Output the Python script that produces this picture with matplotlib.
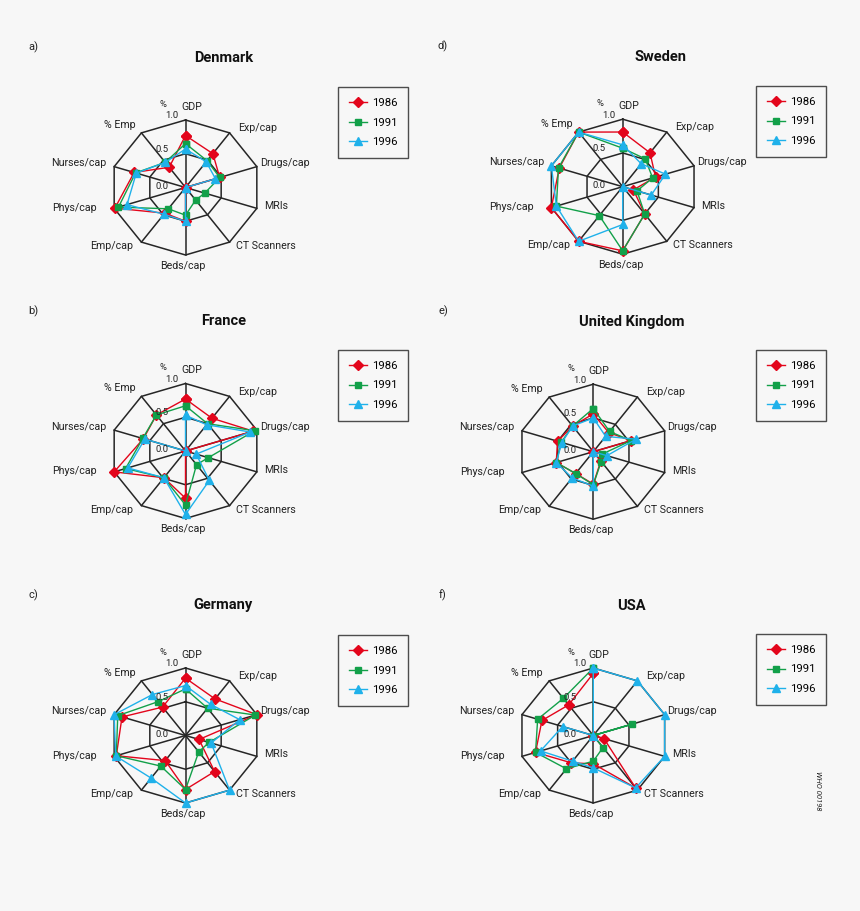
import numpy as np
import matplotlib.pyplot as plt

plt.rcParams['font.family'] = ['Roboto', 'DejaVu Sans']

# spokes, clockwise from the top
axis_names = ['GDP', 'Exp/cap', 'Drugs/cap', 'MRIs', 'CT Scanners',
              'Beds/cap', 'Emp/cap', 'Phys/cap', 'Nurses/cap', '% Emp']
years = ['1986', '1991', '1996']

denmark_1986 = [0.77, 0.62, 0.48, 0.00, 0.00, 0.50, 0.47, 0.99, 0.72, 0.37]
denmark_1991 = [0.65, 0.49, 0.48, 0.27, 0.23, 0.41, 0.39, 0.94, 0.70, 0.46]
denmark_1996 = [0.57, 0.47, 0.42, 0.00, 0.00, 0.50, 0.49, 0.82, 0.69, 0.46]

france_1986 = [0.77, 0.60, 0.95, 0.00, 0.00, 0.70, 0.49, 1.00, 0.59, 0.66]
france_1991 = [0.67, 0.50, 0.97, 0.32, 0.25, 0.80, 0.49, 0.84, 0.60, 0.66]
france_1996 = [0.53, 0.48, 0.91, 0.15, 0.54, 0.94, 0.49, 0.81, 0.57, 0.00]

germany_1986 = [0.85, 0.67, 1.00, 0.19, 0.66, 0.80, 0.46, 0.97, 0.89, 0.52]
germany_1991 = [0.69, 0.50, 0.98, 0.33, 0.30, 0.80, 0.56, 0.97, 0.95, 0.62]
germany_1996 = [0.74, 0.57, 0.76, 0.36, 1.00, 1.00, 0.78, 0.98, 1.00, 0.75]

sweden_1986 = [0.81, 0.62, 0.46, 0.15, 0.50, 0.95, 1.00, 1.00, 0.89, 1.00]
sweden_1991 = [0.57, 0.51, 0.42, 0.20, 0.50, 0.95, 0.53, 0.93, 0.90, 1.00]
sweden_1996 = [0.62, 0.42, 0.60, 0.40, 0.00, 0.56, 1.00, 0.93, 1.00, 1.00]

uk_1986 = [0.56, 0.35, 0.53, 0.00, 0.17, 0.48, 0.40, 0.52, 0.50, 0.47]
uk_1991 = [0.64, 0.37, 0.53, 0.12, 0.18, 0.49, 0.40, 0.52, 0.45, 0.47]
uk_1996 = [0.50, 0.28, 0.60, 0.19, 0.00, 0.51, 0.48, 0.52, 0.44, 0.47]

usa_1986 = [0.92, 0.00, 0.00, 0.15, 0.96, 0.42, 0.50, 0.81, 0.72, 0.56]
usa_1991 = [1.00, 0.00, 0.54, 0.00, 0.22, 0.38, 0.61, 0.81, 0.78, 0.68]
usa_1996 = [1.00, 1.00, 1.00, 1.00, 0.96, 0.48, 0.47, 0.74, 0.43, 0.00]

W, H = 860, 911
RX, RY = 75.0, 67.5
EXT = 2.0

# (letter, title, series, centre px, legend top-left px, letter x px)
panels = [
    ('a)', 'Denmark', [denmark_1986, denmark_1991, denmark_1996], (185.5, 187.5), (338, 87), 33),
    ('b)', 'France', [france_1986, france_1991, france_1996], (185.5, 451.0), (338, 350), 33),
    ('c)', 'Germany', [germany_1986, germany_1991, germany_1996], (185.5, 735.5), (338, 635), 33),
    ('d)', 'Sweden', [sweden_1986, sweden_1991, sweden_1996], (622.7, 186.7), (756, 86), 443),
    ('e)', 'United Kingdom', [uk_1986, uk_1991, uk_1996], (593.3, 451.7), (756, 350), 443),
    ('f)', 'USA', [usa_1986, usa_1991, usa_1996], (593.3, 735.5), (756, 634), 443),
]

colors = ['#e3051b', '#12a049', '#1fb1ea']
markers = ['D', 's', '^']
msizes = [4.8, 4.2, 5.8]

label_pos = [(-0.06, 1.20, 'left'), (0.70, 0.88, 'left'), (0.99, 0.36, 'left'),
             (1.05, -0.28, 'left'), (0.67, -0.87, 'left'), (-0.03, -1.16, 'center'),
             (-0.70, -0.87, 'right'), (-1.18, -0.30, 'right'), (-1.05, 0.36, 'right'),
             (-0.67, 0.93, 'right')]

angles = np.deg2rad(np.arange(len(axis_names)) * 360.0 / len(axis_names))


def ring(vals):
    v = np.append(vals, vals[0])
    a = np.append(angles, angles[0])
    return v * np.sin(a), v * np.cos(a)


fig = plt.figure(figsize=(W / 100, H / 100), dpi=100)
fig.patch.set_facecolor('#f7f7f7')

for letter, title, series, (cx, cy), (lx, ly), letter_x in panels:
    ax = fig.add_axes([(cx - EXT * RX) / W, 1 - (cy + EXT * RY) / H,
                       2 * EXT * RX / W, 2 * EXT * RY / H])
    ax.set_xlim(-EXT, EXT)
    ax.set_ylim(-EXT, EXT)
    ax.axis('off')

    # grid
    for r in [1.0, 0.5]:
        gx, gy = ring(np.full(len(axis_names), r))
        ax.plot(gx, gy, color='#262626', lw=1.1, zorder=1)
    for a in angles:
        ax.plot([0, np.sin(a)], [0, np.cos(a)], color='#262626', lw=1.1, zorder=1)

    handles = []
    for vals, c, m, ms in zip(series, colors, markers, msizes):
        x, y = ring(vals)
        h, = ax.plot(x, y, color=c, lw=1.0, marker=m, ms=ms, mec=c, mfc=c, zorder=3)
        handles.append(h)

    for name, (tx, ty, ha) in zip(axis_names, label_pos):
        ax.text(tx, ty, name, ha=ha, va='center', fontsize=7.7, color='#222222')
    ax.text(-0.30, 1.23, '%', ha='center', va='center', fontsize=6.8, color='#222222')
    ax.text(-0.18, 1.06, '1.0', ha='center', va='center', fontsize=6.8, color='#222222')
    ax.text(-0.31, 0.57, '0.5', ha='center', va='center', fontsize=6.8, color='#222222')
    ax.text(-0.31, 0.02, '0.0', ha='center', va='center', fontsize=6.8, color='#222222')

    fig.text((cx + 38) / W, 1 - (cy - 130) / H, title, ha='center', va='center',
             fontsize=10.5, fontweight='bold', color='#111111')
    fig.text(letter_x / W, 1 - (cy - 140) / H, letter,
             ha='center', va='center', fontsize=8, color='#222222')

    leg = ax.legend(handles, years, loc='upper left', bbox_to_anchor=(lx / W, 1 - ly / H),
                    bbox_transform=fig.transFigure, borderaxespad=0, fontsize=8.2,
                    fancybox=False, frameon=True, borderpad=0.95, labelspacing=0.85,
                    handlelength=1.6, handletextpad=0.45)
    leg.get_frame().set_edgecolor('#222222')
    leg.get_frame().set_facecolor('none')
    leg.get_frame().set_linewidth(1.0)

fig.text(818 / W, 1 - 791 / H, 'WHO 00198', rotation=270, ha='center', va='center',
         fontsize=5.5, style='italic', color='#222222')

fig.savefig('out.png', dpi=100, facecolor=fig.get_facecolor())
